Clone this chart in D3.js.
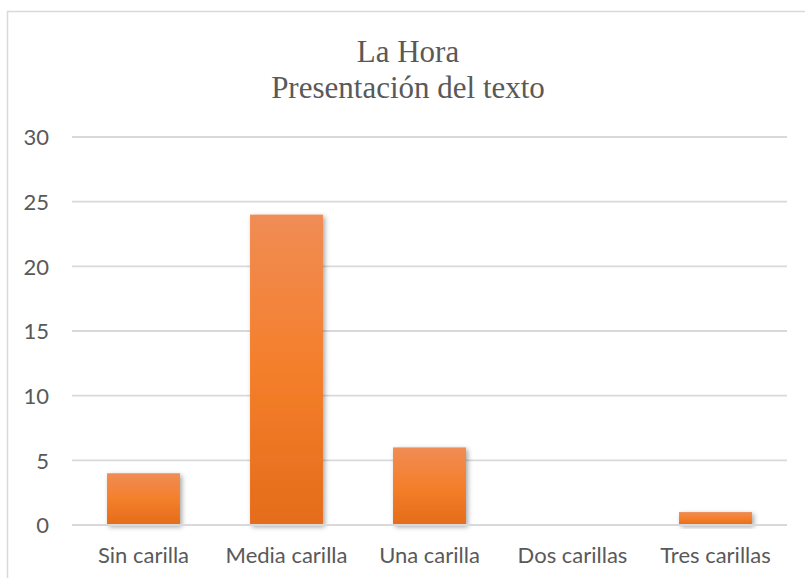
<!DOCTYPE html>
<html>
<head>
<meta charset="utf-8">
<script src="https://cdn.jsdelivr.net/npm/d3@7"></script>
<style>
  html, body { margin: 0; padding: 0; background: #ffffff; }
  svg { display: block; }
</style>
</head>
<body>
<svg id="chart" width="805" height="578"></svg>
<script>
const categories = ["Sin carilla", "Media carilla", "Una carilla", "Dos carillas", "Tres carillas"];
const values = [4, 24, 6, 0, 1];
const yTicks = [0, 5, 10, 15, 20, 25, 30];
const titleLines = ["La Hora", "Presentación del texto"];

const svg = d3.select("#chart");
const W = 805, H = 578;
const plot = { left: 72, right: 787, top: 137, bottom: 525 };

svg.append("rect").attr("x", 0).attr("y", 0).attr("width", W).attr("height", H).attr("fill", "#fff");
svg.append("rect")
  .attr("x", 7.5).attr("y", 11.5).attr("width", 810).attr("height", 600)
  .attr("fill", "#fff").attr("stroke", "#d9d9d9").attr("stroke-width", 1.5);

const defs = svg.append("defs");
const grad = defs.append("linearGradient").attr("id", "barGrad")
  .attr("x1", 0).attr("y1", 0).attr("x2", 0).attr("y2", 1);
grad.append("stop").attr("offset", "0%").attr("stop-color", "#F08C55");
grad.append("stop").attr("offset", "50%").attr("stop-color", "#F47F2B");
grad.append("stop").attr("offset", "100%").attr("stop-color", "#E46C1A");

const shadow = defs.append("filter").attr("id", "shadow")
  .attr("x", "-20%").attr("y", "-20%").attr("width", "150%").attr("height", "150%");
shadow.append("feDropShadow").attr("dx", 2).attr("dy", 2).attr("stdDeviation", 2.5)
  .attr("flood-color", "#000").attr("flood-opacity", 0.35);

const x = d3.scaleBand().domain(categories).range([plot.left, plot.right])
  .paddingInner(0.49).paddingOuter(0.245);
const y = d3.scaleLinear().domain([0, 30]).range([plot.bottom, plot.top]);

// gridlines
svg.append("g").selectAll("line").data(yTicks).join("line")
  .attr("x1", plot.left).attr("x2", plot.right)
  .attr("y1", d => y(d)).attr("y2", d => y(d))
  .attr("stroke", "#d9d9d9").attr("stroke-width", 1.8);

// y axis labels
const yAxis = d3.axisLeft(y).tickValues(yTicks).tickSize(0).tickPadding(0);
const yg = svg.append("g").attr("transform", `translate(49,0)`).call(yAxis);
yg.select(".domain").remove();
yg.selectAll("text")
  .attr("font-family", "Lato, 'Open Sans', sans-serif")
  .attr("font-size", 22).attr("fill", "#595959").attr("dy", "0.36em");

// bars
svg.append("g").selectAll("rect").data(values.map((v, i) => ({ c: categories[i], v })))
  .join("rect")
  .filter(d => d.v > 0)
  .attr("x", d => x(d.c)).attr("width", x.bandwidth())
  .attr("y", d => y(d.v)).attr("height", d => y(0) - y(d.v))
  .attr("fill", "url(#barGrad)")
  .attr("filter", "url(#shadow)");

// redraw zero line on top of bar bottoms
svg.append("line").attr("x1", plot.left).attr("x2", plot.right)
  .attr("y1", y(0)).attr("y2", y(0)).attr("stroke", "#d9d9d9").attr("stroke-width", 1.8);

// x axis labels
const xAxis = d3.axisBottom(x).tickSize(0).tickPadding(0);
const xg = svg.append("g").attr("transform", `translate(0,563)`).call(xAxis);
xg.select(".domain").remove();
xg.selectAll("text")
  .attr("font-family", "Lato, 'Open Sans', sans-serif")
  .attr("font-size", 22).attr("fill", "#595959").attr("dy", 0).attr("y", 0);

// title
svg.append("g").selectAll("text").data(titleLines).join("text")
  .attr("x", 408).attr("y", (d, i) => 62 + i * 36)
  .attr("text-anchor", "middle")
  .attr("font-family", "'Liberation Serif', 'Times New Roman', serif")
  .attr("font-size", 31).attr("fill", "#595959")
  .text(d => d);
</script>
</body>
</html>
